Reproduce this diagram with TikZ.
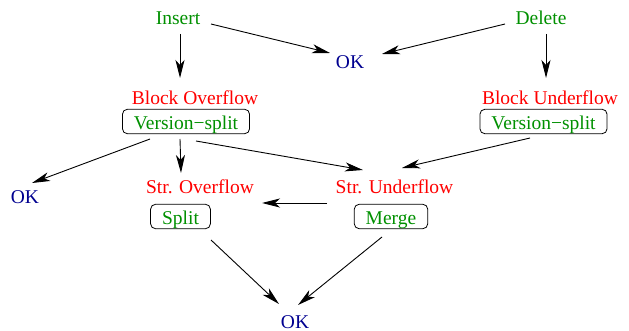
\documentclass[tikz,border=0pt]{standalone}
\usepackage{fontspec}
\setmainfont{Liberation Serif}
\usetikzlibrary{arrows.meta}
\definecolor{fgreen}{HTML}{009000}
\definecolor{fred}{HTML}{FF0000}
\definecolor{fblue}{HTML}{000090}
\begin{document}
\begin{tikzpicture}[x=1pt,y=-1pt,
  every node/.style={font=\fontsize{19.5}{22}\selectfont},
  lbl/.style={inner sep=0pt,anchor=base},
  act/.style={lbl,text=fgreen},
  cond/.style={lbl,text=fred},
  okl/.style={lbl,text=fblue},
  boxn/.style={draw=black,line width=0.8pt,rounded corners=5pt,text=fgreen,
    inner xsep=11.5pt,inner ysep=0pt,text height=20.5pt,text depth=4pt},
  arr/.style={line width=0.9pt,-{Stealth[length=18pt,width=9pt,inset=5pt]}}]
\useasboundingbox (0,0) rectangle (629,331);
% nodes
\node[act]  (ins) at (178,25) {Insert};
\node[act]  (del) at (541,25) {Delete};
\node[okl]  (ok1) at (350,69) {OK};
\node[cond] (bo)  at (195,105) {Block Overflow};
\node[cond] (bu)  at (550,105) {Block Underflow};
\node[boxn] (vs1) at (186,121.5) {Version−split};
\node[boxn] (vs2) at (543.5,121.5) {Version−split};
\node[okl]  (ok2) at (25,204) {OK};
\node[cond] (so)  at (200,194) {Str. Overflow};
\node[cond] (su)  at (394.5,194) {Str. Underflow};
\node[boxn] (sp)  at (180.5,216.5) {Split};
\node[boxn] (mg)  at (391,216.5) {Merge};
\node[okl]  (ok3) at (295,328) {OK};
% connectors
\draw[arr] ([shift={(2,9)}]ins.base) -- ([shift={(-15,-27)}]bo.base);
\draw[arr] ([shift={(33,-1)}]ins.base) -- ([shift={(-20,-16)}]ok1.base);
\draw[arr] ([shift={(-36,-1)}]del.base) -- ([shift={(32,-15)}]ok1.base);
\draw[arr] ([shift={(5,9)}]del.base) -- ([shift={(-4,-27)}]bu.base);
\draw[arr] ([shift={(-6,17.5)}]vs1.center) -- ([shift={(-19,-21)}]so.base);
\draw[arr] ([shift={(-36,17.5)}]vs1.center) -- ([shift={(7,-21)}]ok2.base);
\draw[arr] ([shift={(10,19.5)}]vs1.center) -- ([shift={(-31.5,-24)}]su.base);
\draw[arr] ([shift={(-13.5,16.5)}]vs2.center) -- ([shift={(7.5,-26)}]su.base);
\draw[arr] ([shift={(-67.5,9)}]su.base) -- ([shift={(62,9)}]so.base);
\draw[arr] ([shift={(30.5,23.5)}]sp.center) -- ([shift={(-16,-24)}]ok3.base);
\draw[arr] ([shift={(-9,20.5)}]mg.center) -- ([shift={(3,-23)}]ok3.base);
\end{tikzpicture}
\end{document}
